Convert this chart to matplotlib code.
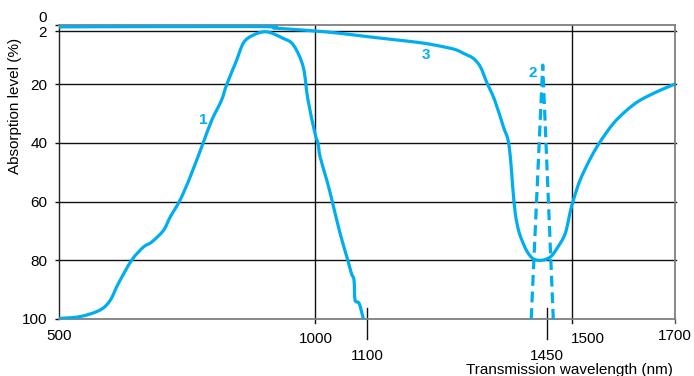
import matplotlib
matplotlib.use("Agg")
import matplotlib.pyplot as plt
import numpy as np
from matplotlib.path import Path
from matplotlib.patches import PathPatch

plt.rcParams['font.family'] = ['Liberation Sans', 'DejaVu Sans']

CYAN = '#00AEEF'

# curve 1 (solid, bell shaped)
c1_nm = [500, 541, 580, 600, 616, 642, 665, 681, 704, 717,
         736, 756, 782, 798, 817, 827, 845, 860, 879, 905,
         937, 957, 976, 985, 999, 1005, 1009, 1022, 1032, 1048,
         1061, 1070, 1075, 1077, 1085, 1093]
c1_abs = [99.8, 99.2, 97, 93.7, 88, 80, 75.5, 73.8, 69.8, 65.3,
          59.6, 51.6, 39.7, 32.3, 25.5, 20.2, 12.5, 5.9, 3.3, 2.2,
          4.4, 6.7, 14.1, 25, 36.8, 40.2, 44.8, 52.7, 59.5, 70.9,
          78.8, 84.5, 86.7, 93.5, 94.7, 99.8]

# curve 2 (dashed, narrow line)
c2_nm = [1420, 1442.5, 1463]
c2_abs = [100, 13.5, 100]

# curve 3 (solid, flat then deep dip)
c3_nm = [500, 885, 920, 960, 999, 1048, 1100, 1150, 1200, 1229,
         1260, 1275, 1288, 1307, 1321, 1333, 1349, 1366, 1375, 1380,
         1384, 1389, 1395, 1402, 1412, 1424, 1440, 1457, 1470, 1486,
         1496, 1502, 1515, 1535, 1554, 1580, 1606, 1632, 1671, 1700]
c3_abs = [0.5, 0.4, 0.9, 1.4, 1.9, 2.7, 3.8, 4.8, 5.8, 6.6,
          7.7, 8.4, 9.5, 11.2, 14.1, 19.2, 25.5, 34.6, 39.1, 45.9,
          55, 64, 69.5, 73.2, 77, 79.5, 80, 78.9, 76, 71,
          63.5, 59.6, 52.8, 45.4, 39.7, 33.4, 28.9, 25.5, 22.1, 20]

yticks = [20, 40, 60, 80, 100]
grid_y = [2, 20, 40, 60, 80]
grid_x = [1000, 1500]
xlabels_sub = [1100, 1450]


def smooth_path(xs, ys):
    # catmull-rom through the read points, as cubic bezier segments
    p = np.column_stack([xs, ys]).astype(float)
    p = np.vstack([p[0], p, p[-1]])
    verts = [p[1]]
    codes = [Path.MOVETO]
    for i in range(1, len(p) - 2):
        c1 = p[i] + (p[i + 1] - p[i - 1]) / 6
        c2 = p[i + 1] - (p[i + 2] - p[i]) / 6
        verts += [c1, c2, p[i + 1]]
        codes += [Path.CURVE4] * 3
    return Path(verts, codes)


fig = plt.figure(figsize=(6.94, 3.76), dpi=100)
ax = fig.add_axes([58.7 / 694, 57 / 376, 616.3 / 694, 293.6 / 376])

ax.set_xlim(500, 1700)
ax.set_ylim(100, 0)

for y in grid_y:
    ax.plot([500, 1702], [y, y], color='#111111', lw=1.0, clip_on=False, zorder=1)
for x in grid_x:
    ax.plot([x, x], [0, 101.5], color='#111111', lw=1.0, clip_on=False, zorder=1)
for x in xlabels_sub:
    ax.plot([x, x], [96.3, 106.7], color='#111111', lw=1.0, clip_on=False, zorder=1)
ax.plot([1700, 1700], [100, 101.2], color='#555555', lw=1.0, clip_on=False)

for xs, ys in [(c1_nm, c1_abs), (c3_nm, c3_abs)]:
    ax.add_patch(PathPatch(smooth_path(xs, ys), fill=False, edgecolor=CYAN,
                           lw=2.3, joinstyle='round', capstyle='round', zorder=3))
ax.plot(c2_nm, c2_abs, color=CYAN, lw=2.3, dashes=(3.4, 1.8), zorder=3)

ax.text(781, 32.3, '1', color=CYAN, fontsize=11, fontweight='bold', ha='center', va='center')
ax.text(1423.5, 16.1, '2', color=CYAN, fontsize=11, fontweight='bold', ha='center', va='center')
ax.text(1215.5, 10.1, '3', color=CYAN, fontsize=11, fontweight='bold', ha='center', va='center')

for s in ['top', 'right', 'bottom']:
    ax.spines[s].set_color('#7f7f7f')
    ax.spines[s].set_linewidth(1.3)
ax.spines['left'].set_color('#222222')
ax.spines['left'].set_linewidth(1.0)

ax.set_yticks([0, 2] + yticks)
ax.set_yticklabels(['', ''] + [str(v) for v in yticks])
ax.tick_params(axis='y', direction='out', length=3, width=1, pad=5, labelsize=11, color='#111111')
ax.set_xticks([])

ytr = ax.get_yaxis_transform()
ax.text(-0.019, -2.5, '0', transform=ytr, fontsize=11, ha='right', va='center')
ax.text(-0.019, 2.6, '2', transform=ytr, fontsize=11, ha='right', va='center')

ax.text(500, 105.7, '500', fontsize=11, ha='center', va='center', clip_on=False)
ax.text(1000, 106.7, '1000', fontsize=11, ha='center', va='center', clip_on=False)
ax.text(1497, 106.7, '1500', fontsize=11, ha='left', va='center', clip_on=False)
ax.text(1700, 105.7, '1700', fontsize=11, ha='center', va='center', clip_on=False)
for x in xlabels_sub:
    ax.text(x, 112.5, str(x), fontsize=11, ha='center', va='center', clip_on=False)

fig.text(673 / 694, 1 - 374 / 376, 'Transmission wavelength (nm)', fontsize=11,
         ha='right', va='baseline')
fig.text(15 / 694, 1 - 106 / 376, 'Absorption level (%)', fontsize=11,
         rotation=90, ha='center', va='center')

fig.savefig('out.png', dpi=100)
